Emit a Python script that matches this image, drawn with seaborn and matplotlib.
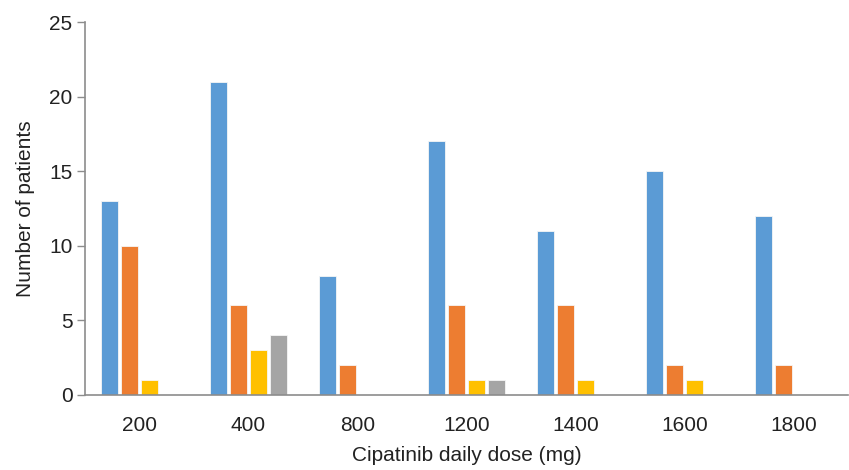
import matplotlib
matplotlib.use("Agg")
import matplotlib.pyplot as plt
import seaborn as sns
import pandas as pd

categories = ["200", "400", "800", "1200", "1400", "1600", "1800"]
series_names = ["Series 1", "Series 2", "Series 3", "Series 4"]
series1 = [13, 21, 8, 17, 11, 15, 12]
series2 = [10, 6, 2, 6, 6, 2, 2]
series3 = [1, 3, 0, 1, 1, 1, 0]
series4 = [0, 4, 0, 1, 0, 0, 0]
colors = ["#5B9BD5", "#ED7D31", "#FFC000", "#A5A5A5"]

rows = []
for name, vals in zip(series_names, [series1, series2, series3, series4]):
    for c, v in zip(categories, vals):
        if v > 0:
            rows.append({"dose": c, "series": name, "count": v})
df = pd.DataFrame(rows)

sns.set_theme(style="white")
plt.rcParams["font.family"] = ["Liberation Sans", "DejaVu Sans"]

fig = plt.figure(figsize=(8.49, 4.70), dpi=100)
ax = fig.add_axes([0.100, 0.160, 0.899, 0.793])

sns.barplot(data=df, x="dose", y="count", hue="series", order=categories,
            hue_order=series_names, palette=colors, saturation=1, width=0.74, gap=0.16,
            edgecolor="#f6f6f6", linewidth=0.6, legend=False, ax=ax)

ax.set_ylim(0, 25)
ax.set_xlim(-0.5, 6.5)
ax.set_yticks([0, 5, 10, 15, 20, 25])
ax.set_xlabel("Cipatinib daily dose (mg)", fontsize=15, color="#222222", labelpad=8)
ax.set_ylabel("Number of patients", fontsize=15, color="#222222", labelpad=10)

for s in ["top", "right"]:
    ax.spines[s].set_visible(False)
for s in ["left", "bottom"]:
    ax.spines[s].set_color("#8c8c8c")
    ax.spines[s].set_linewidth(1.2)

ax.tick_params(axis="y", which="both", left=True, length=6, width=1.0,
               color="#8c8c8c", labelsize=15, labelcolor="#222222", pad=3)
ax.tick_params(axis="x", which="both", bottom=False, labelsize=15,
               labelcolor="#222222", pad=9)

fig.savefig("out.png", dpi=100)
